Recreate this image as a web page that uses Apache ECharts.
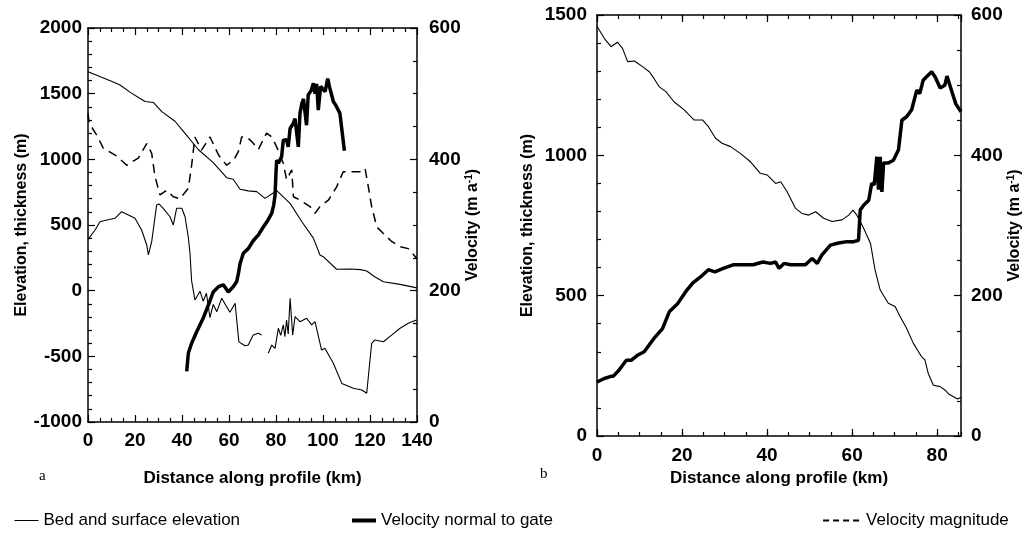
<!DOCTYPE html>
<html>
<head>
<meta charset="utf-8">
<script src="https://cdn.jsdelivr.net/npm/echarts@6/dist/echarts.min.js"></script>
<style>
html, body { margin: 0; padding: 0; background: #fff; }
#main { width: 1025px; height: 535px; }
</style>
</head>
<body>
<div id="main"></div>
<script>
// panel a : [km, m] and [km, m/a]
var surfA = [[0,1667],[5,1630],[10,1595],[13.6,1566],[18,1510],[22,1465],[24.3,1440],[27.8,1433],[31.4,1363],[37,1290],[41.3,1198],[46.9,1075],[53.3,975],[59,860],[61.8,848],[64.7,772],[68.2,760],[71.8,754],[75.3,703],[80.3,761],[86,665],[91,525],[95.9,400],[98.7,272],[100.1,259],[105.8,163],[111.5,165],[116,160],[118.6,150],[122,106],[125.7,68],[132.8,48],[139.4,23],[140,20]];
var bedA = [[0,390],[0.9,411],[3,462],[5.1,525],[8,538],[11.5,551],[14.3,601],[17.2,576],[20,551],[22.8,462],[25,348],[25.7,272],[27.1,373],[29.2,652],[30.2,660],[32,627],[34.9,563],[36.3,500],[37.7,627],[39.9,627],[41.3,563],[42.7,405],[43.4,285],[44.1,75],[45.5,-71],[47.7,-5],[49,-80],[50.4,-20],[51.9,-205],[53.3,-105],[54.8,-160],[56.9,-58],[59,-122],[60.4,-165],[62.6,-96],[63.3,-96],[64.2,-390],[66.8,-420],[68.2,-414],[70.3,-338],[72.5,-325],[73.9,-338],[75,null],[76.7,-477],[78.2,-414],[79.6,-439],[81,-286],[82,-340],[83.1,-260],[83.8,-350],[84.5,-223],[85.2,-330],[86,-58],[87.1,-338],[88.1,-198],[90.2,-236],[93,-210],[95.2,-261],[96.6,-236],[99.4,-452],[100.8,-439],[104.4,-553],[108,-706],[112.9,-743],[116.5,-756],[118.6,-781],[120.7,-401],[122,-376],[125.7,-389],[129.2,-338],[132.8,-286],[136.3,-248],[139.8,-223]];
var velA = [[42,77],[42.7,105],[44.1,120],[46.2,137],[49,158],[51.2,178],[53.3,198],[55.5,206],[57.6,209],[59.7,198],[61.8,206],[63.3,214],[64,226],[64.7,241],[66.1,257],[68.2,264],[70.3,276],[72.5,285],[74.6,297],[76.5,307],[78.2,318],[79,330],[79.6,345],[80,380],[80.3,399],[81,394],[82.4,404],[83.1,429],[84.5,430],[85.2,419],[86,447],[87.4,455],[88.1,462],[89.5,419],[90.2,470],[91,485],[91.7,492],[92.4,470],[93,452],[93.7,498],[95,505],[95.9,516],[96.6,500],[97.3,515],[98,475],[99,511],[99.4,511],[100.9,503],[102,523],[102.8,510],[104.4,488],[105.5,482],[107.2,470],[108.2,440],[109.1,413]];
var magA = [[0,470],[0.5,455],[3.7,437],[6.5,417],[12.2,405],[16.5,391],[21.4,402],[25,424],[27.1,409],[28.5,374],[30.6,346],[33.5,353],[36.3,343],[39.1,340],[42.7,356],[44.1,391],[45.5,434],[48.3,414],[51.9,434],[55.5,407],[59,391],[62,399],[64,412],[65.4,434],[67.5,434],[69.7,427],[72.5,415],[76,440],[78.2,434],[80.3,419],[83.1,394],[84.5,369],[86.7,384],[87.4,343],[90.2,338],[94.5,328],[96.6,318],[98.7,328],[102.3,338],[105.8,358],[108.6,381],[111.5,381],[115.7,381],[117.9,386],[119.3,358],[120.7,328],[122.9,297],[125.7,287],[129.2,275],[132.8,267],[136.3,264],[139.9,249]];

// panel b
var surfB = [[0,1460],[1.7,1417],[3.3,1387],[4.8,1403],[6,1381],[7.2,1334],[8.8,1336],[10.7,1316],[12.3,1298],[13.4,1274],[14.6,1245],[16.2,1227],[18.1,1191],[20.5,1162],[22.8,1126],[24.8,1126],[26.2,1102],[27.9,1061],[29.4,1043],[31.4,1031],[33.7,1007],[36.1,977],[38.4,936],[40,930],[42,900],[43.2,906],[44.7,870],[46.7,811],[48.2,793],[49.8,787],[51.4,799],[53.3,776],[55.3,764],[57.6,770],[59.2,787],[60.2,805],[61.1,787],[62.7,740],[64.3,687],[65.4,591],[66.6,520],[68.5,473],[70.1,461],[71.3,425],[72.8,384],[74.4,330],[76.3,283],[77.1,271],[77.9,223],[79.1,181],[80.7,176],[81.8,164],[82.7,150],[84.8,132],[85.6,138]];
var velB = [[0,77],[1.7,82],[3.3,85],[3.8,85],[5.2,94],[6.9,108],[8.1,108],[9.5,115],[11.1,120],[12.3,130],[13.4,139],[15.4,153],[17,177],[19,189],[20.9,206],[22.5,218],[24.4,227],[26.2,237],[27.7,234],[29.7,239],[32,244],[34.4,244],[36.7,244],[39,248],[40.8,246],[42,248],[42.8,239],[44,246],[45.5,244],[47.1,244],[49,244],[50.6,253],[51.8,246],[52.9,258],[54.9,272],[56.8,275],[58.8,277],[60.4,277],[61.5,279],[61.9,322],[62.7,329],[63.9,336],[64.6,360],[65.2,358],[65.8,398],[66.2,351],[66.6,398],[67,348],[67.4,389],[68.5,389],[69.7,393],[70.9,408],[71.7,450],[72.8,455],[74,465],[75.2,493],[75.9,488],[76.7,507],[77.5,512],[78.7,519],[79.5,512],[80.7,496],[81.8,500],[82.3,513],[83.5,490],[84.4,473],[85.6,462]];

var seriesNames = ['Bed and surface elevation', 'Velocity normal to gate', 'Velocity magnitude'];
var xMaxA = 140, xMaxB = 85.6;

var FONT = '"Liberation Sans", Arial, sans-serif';
var chart = echarts.init(document.getElementById('main'));

function plain(v) { return String(v); }

function xAx(grid, pos, max, interval, labels, len, showLine, margin) {
    return {
        type: 'value', gridIndex: grid, position: pos, min: 0, max: max, interval: interval,
        axisLine: {show: showLine, onZero: false, lineStyle: {color: '#000', width: 1.5}},
        axisTick: {show: true, inside: true, length: len, lineStyle: {color: '#000', width: 1.2}},
        axisLabel: {show: labels, margin: margin, color: '#000', fontFamily: FONT, fontWeight: 'bold', fontSize: 19,
            showMaxLabel: max === 140, formatter: plain},
        splitLine: {show: false}
    };
}
function yAx(grid, pos, min, max, interval, split, name, gap, margin) {
    return {
        type: 'value', gridIndex: grid, position: pos, min: min, max: max, interval: interval,
        name: name, nameLocation: 'middle', nameGap: gap, nameRotate: 90,
        nameTextStyle: {color: '#000', fontFamily: FONT, fontWeight: 'bold', fontSize: 16,
            rich: {sup: {fontFamily: FONT, fontWeight: 'bold', fontSize: 10, verticalAlign: 'top', lineHeight: 16}}},
        axisLine: {show: true, onZero: false, lineStyle: {color: '#000', width: 1.5}},
        axisTick: {inside: true, length: 7, lineStyle: {color: '#000', width: 1.2}},
        minorTick: {show: true, splitNumber: split, length: 4, lineStyle: {color: '#000', width: 1.2}},
        axisLabel: {margin: margin, color: '#000', fontFamily: FONT, fontWeight: 'bold', fontSize: 19, formatter: plain},
        splitLine: {show: false}
    };
}

var xAxes = [
    xAx(0, 'bottom', xMaxA, 20, true, 7, true, 9),
    xAx(0, 'top', xMaxA, 20, false, 7, true, 8),
    xAx(1, 'bottom', xMaxB, 20, true, 7, true, 10),
    xAx(1, 'bottom', xMaxB, 5, false, 4, false, 8),
    xAx(1, 'top', xMaxB, 20, false, 7, true, 8),
    xAx(1, 'top', xMaxB, 5, false, 4, false, 8)
];
xAxes[0].minorTick = {show: true, splitNumber: 4, length: 4, lineStyle: {color: '#000', width: 1.2}};
xAxes[1].minorTick = {show: true, splitNumber: 4, length: 4, lineStyle: {color: '#000', width: 1.2}};
xAxes[0].name = 'Distance along profile (km)';
xAxes[2].name = 'Distance along profile (km)';
[0, 2].forEach(function (i) {
    xAxes[i].nameLocation = 'middle';
    xAxes[i].nameTextStyle = {color: '#000', fontFamily: FONT, fontWeight: 'bold', fontSize: 17};
});
xAxes[0].nameGap = 48;
xAxes[2].nameGap = 32;

var yAxes = [
    yAx(0, 'left', -1000, 2000, 500, 5, 'Elevation, thickness (m)', 58, 6),
    yAx(0, 'right', 0, 600, 200, 4, 'Velocity (m a{sup|-1})', 45, 12),
    yAx(1, 'left', 0, 1500, 500, 5, 'Elevation, thickness (m)', 61, 10),
    yAx(1, 'right', 0, 600, 200, 4, 'Velocity (m a{sup|-1})', 41, 10)
];

function lineSeries(name, data, xi, yi, width, dash) {
    return {
        name: name, type: 'line', data: data, xAxisIndex: xi, yAxisIndex: yi,
        symbol: 'none', showSymbol: false, connectNulls: false, silent: true,
        lineStyle: {color: '#000', width: width, type: dash || 'solid'},
        itemStyle: {color: '#000'}
    };
}

var legendBase = {
    orient: 'horizontal', top: 512, padding: 0, itemHeight: 14, selectedMode: false,
    itemStyle: {opacity: 0},
    textStyle: {color: '#000', fontFamily: FONT, fontSize: 17}
};

chart.setOption({
    animation: false,
    backgroundColor: '#fff',
    grid: [
        {left: 88, right: 608, top: 28, bottom: 113},
        {left: 597, right: 64, top: 15, bottom: 99}
    ],
    xAxis: xAxes,
    yAxis: yAxes,
    legend: [
        Object.assign({}, legendBase, {data: [seriesNames[0]], left: 14, itemWidth: 24, lineStyle: {width: 1}}),
        Object.assign({}, legendBase, {data: [seriesNames[1]], left: 350, itemWidth: 24, lineStyle: {width: 4}}),
        Object.assign({}, legendBase, {data: [seriesNames[2]], left: 822, itemWidth: 38, lineStyle: {width: 2.2, type: [6, 4]}})
    ],
    graphic: [
        {type: 'text', left: 39, top: 469, style: {text: 'a', font: '15px "Liberation Serif", serif', fill: '#000'}},
        {type: 'text', left: 540, top: 467, style: {text: 'b', font: '15px "Liberation Serif", serif', fill: '#000'}}
    ],
    series: [
        lineSeries(seriesNames[0], surfA, 0, 0, 1.1),
        lineSeries(seriesNames[0], bedA, 0, 0, 1.1),
        lineSeries(seriesNames[1], velA, 0, 1, 3.5),
        lineSeries(seriesNames[2], magA, 0, 1, 1.5, [9, 6]),
        lineSeries(seriesNames[0], surfB, 2, 2, 1.1),
        lineSeries(seriesNames[1], velB, 2, 3, 3.5)
    ]
});
</script>
</body>
</html>
